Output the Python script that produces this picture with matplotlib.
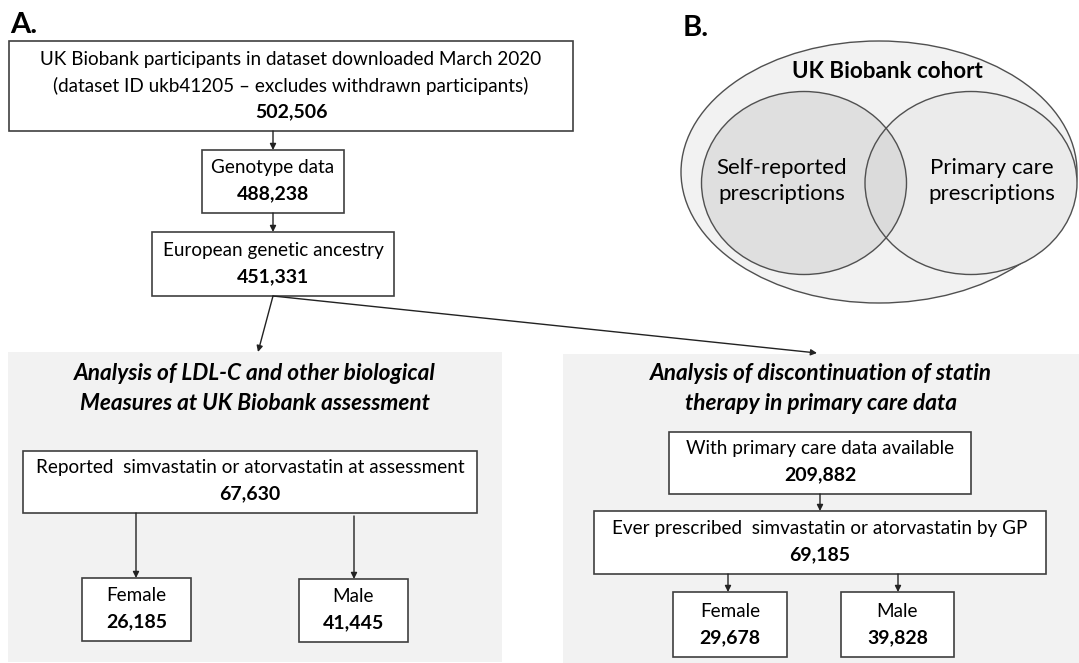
import matplotlib.pyplot as plt
from matplotlib.patches import Rectangle, Ellipse

plt.rcParams['font.family'] = ['Lato', 'DejaVu Sans']

# flow chart content
box_labels = [
    "UK Biobank participants in dataset downloaded March 2020\n(dataset ID ukb41205 \u2013 excludes withdrawn participants)",
    "Genotype data",
    "European genetic ancestry",
    "Reported  simvastatin or atorvastatin at assessment",
    "Female",
    "Male",
    "With primary care data available",
    "Ever prescribed  simvastatin or atorvastatin by GP",
    "Female",
    "Male",
]
box_counts = [502506, 488238, 451331, 67630, 26185, 41445, 209882, 69185, 29678, 39828]

panel_titles = [
    "Analysis of LDL-C and other biological\nMeasures at UK Biobank assessment",
    "Analysis of discontinuation of statin\ntherapy in primary care data",
]
venn_title = "UK Biobank cohort"
venn_labels = ["Self-reported\nprescriptions", "Primary care\nprescriptions"]

# layout (pixel coords, y down): x0, y0, x1, y1
box_pos = [
    (9, 41, 573, 131),
    (202, 150, 344, 213),
    (152, 232, 394, 296),
    (23, 451, 477, 513),
    (82, 578, 191, 641),
    (299, 579, 408, 642),
    (669, 432, 971, 494),
    (594, 511, 1046, 574),
    (673, 592, 787, 657),
    (841, 592, 954, 657),
]
panel_pos = [(8, 352, 502, 662), (563, 354, 1079, 663)]
arrows = [  # (x_from, y_from, x_to, y_to)
    (273, 131, 273, 150),
    (273, 213, 273, 232),
    (273, 296, 258, 352),
    (273, 296, 817, 353),
    (136, 513, 136, 578),
    (354, 516, 354, 579),
    (820, 494, 820, 511),
    (728, 574, 728, 592),
    (898, 574, 898, 592),
]

W, H = 1079, 663
fig = plt.figure(figsize=(W / 100, H / 100), dpi=100)
ax = fig.add_axes([0, 0, 1, 1])
ax.set_xlim(0, W)
ax.set_ylim(H, 0)
ax.axis("off")

edge = "#3f3f3f"
fs = 13.6
step = 26.5


def stacked(x, y_first, lines, **kw):
    for k, s in enumerate(lines):
        ax.text(x, y_first + k * step, s, ha="center", va="center", **kw)


for (x0, y0, x1, y1), title in zip(panel_pos, panel_titles):
    ax.add_patch(Rectangle((x0, y0), x1 - x0, y1 - y0, facecolor="#f2f2f2", edgecolor="none", zorder=0))
    t = title.split("\n")
    for k, s in enumerate(t):
        ax.text((x0 + x1) / 2, 373 + k * 30, s, ha="center", va="center", fontsize=16.3,
                fontweight="bold", style="italic", zorder=3)

for (x0, y0, x1, y1), lab, n in zip(box_pos, box_labels, box_counts):
    ax.add_patch(Rectangle((x0, y0), x1 - x0, y1 - y0, facecolor="white", edgecolor=edge, lw=1.2, zorder=2))
    cx = (x0 + x1) / 2
    lines = lab.split("\n")
    ycount = y1 - 19
    stacked(cx, ycount - step * len(lines), lines, fontsize=fs, zorder=3)
    ax.text(cx, ycount, f"{n:,}", ha="center", va="center", fontsize=fs + 0.4, fontweight="bold", zorder=3)

for xa, ya, xb, yb in arrows:
    ax.annotate("", xy=(xb, yb), xytext=(xa, ya),
                arrowprops=dict(arrowstyle="-|>", color="#222222", lw=1.0, mutation_scale=9,
                                shrinkA=0, shrinkB=0), zorder=4)

# panel labels
ax.text(10, 25, "A.", ha="left", va="center", fontsize=21, fontweight="bold")
ax.text(683, 28, "B.", ha="left", va="center", fontsize=21, fontweight="bold")

# venn diagram
vedge = "#505050"
ax.add_patch(Ellipse((879, 172), 396, 262, facecolor="#f2f2f2", edgecolor=vedge, lw=1.0, zorder=1))
ax.add_patch(Ellipse((971, 183), 212, 183, facecolor="#ebebeb", edgecolor="none", zorder=2))
ax.add_patch(Ellipse((804, 183), 205, 183, facecolor="#c4c4c4", alpha=0.4, edgecolor="none", zorder=3))
ax.add_patch(Ellipse((971, 183), 212, 183, facecolor="none", edgecolor=vedge, lw=1.0, zorder=4))
ax.add_patch(Ellipse((804, 183), 205, 183, facecolor="none", edgecolor=vedge, lw=1.0, zorder=4))
ax.text(887, 72, venn_title, ha="center", va="center", fontsize=16.1, fontweight="bold", zorder=5)
stacked(782, 168, venn_labels[0].split("\n"), fontsize=16, zorder=5)
stacked(992, 168, venn_labels[1].split("\n"), fontsize=16, zorder=5)

fig.savefig("out.png", dpi=100)
